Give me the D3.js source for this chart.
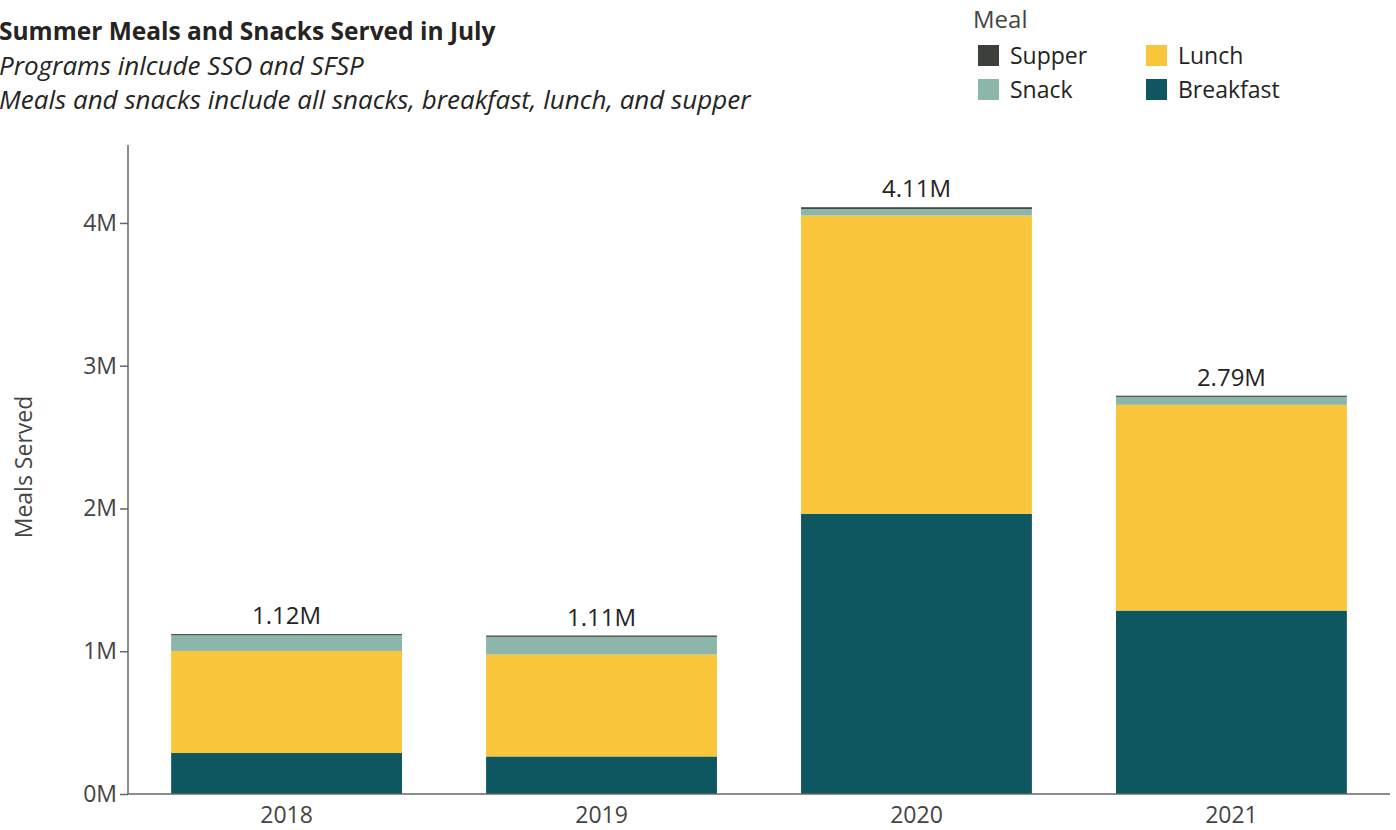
<!DOCTYPE html>
<html>
<head>
<meta charset="utf-8">
<script src="https://cdn.jsdelivr.net/npm/d3@7"></script>
<style>
  html, body { margin: 0; padding: 0; background: #fff; }
  svg { display: block; font-family: "Open Sans", "Noto Sans", sans-serif; }
</style>
</head>
<body>
<svg id="chart" width="1396" height="830"></svg>
<script>
// Meals served in July, by year and meal type (millions)
const years = ["2018", "2019", "2020", "2021"];
const breakfast = [0.287, 0.263, 1.963, 1.285];
const lunch     = [0.715, 0.714, 2.089, 1.441];
const snack     = [0.110, 0.124, 0.046, 0.056];
const supper    = [0.008, 0.009, 0.012, 0.008];
const meals = ["Breakfast", "Lunch", "Snack", "Supper"];
const mealColors = ["#0f5760", "#f8c53b", "#8bb6a9", "#3d3f3b"];
const yTicks = [0, 1, 2, 3, 4];

const rows = years.map((y, i) => ({
  year: y,
  Breakfast: breakfast[i] * 1e6,
  Lunch: lunch[i] * 1e6,
  Snack: snack[i] * 1e6,
  Supper: supper[i] * 1e6
}));

const svg = d3.select("#chart");

const x = d3.scaleBand()
  .domain(years)
  .range([128, 1390])
  .paddingInner(0.267)
  .paddingOuter(0.137);

const y = d3.scaleLinear()
  .domain([0, 4.546e6])
  .range([794, 145]);

const color = d3.scaleOrdinal().domain(meals).range(mealColors);

const stacked = d3.stack().keys(meals)(rows);

// stacked bars
svg.append("g")
  .selectAll("g")
  .data(stacked)
  .join("g")
  .attr("fill", d => color(d.key))
  .selectAll("rect")
  .data(d => d)
  .join("rect")
  .attr("x", d => x(d.data.year))
  .attr("width", x.bandwidth())
  .attr("y", d => y(d[1]))
  .attr("height", d => y(d[0]) - y(d[1]));

// totals above each bar
const totals = rows.map(r => ({ year: r.year, total: d3.sum(meals, k => r[k]) }));
svg.append("g")
  .selectAll("text")
  .data(totals)
  .join("text")
  .attr("x", d => x(d.year) + x.bandwidth() / 2)
  .attr("y", d => y(d.total) - 10)
  .attr("text-anchor", "middle")
  .attr("font-size", 24)
  .attr("fill", "#252423")
  .text(d => (d.total / 1e6).toFixed(2) + "M");

// y axis
const yAxis = svg.append("g")
  .attr("transform", "translate(128,0)")
  .call(d3.axisLeft(y)
    .tickValues(yTicks.map(v => v * 1e6))
    .tickFormat(v => (v / 1e6) + "M")
    .tickSize(8)
    .tickPadding(3));
yAxis.select(".domain").attr("stroke", "#666").attr("stroke-width", 1.5)
  .attr("d", "M0," + y.range()[0] + "V" + y.range()[1]);
yAxis.selectAll(".tick line").attr("stroke", "#666").attr("stroke-width", 1.5);
yAxis.selectAll(".tick text").attr("font-size", 23).attr("fill", "#444")
  .attr("font-family", "\"Open Sans\", sans-serif");

// x axis
const xAxis = svg.append("g")
  .attr("transform", "translate(0,794)")
  .call(d3.axisBottom(x).tickSize(0).tickPadding(13));
xAxis.select(".domain").attr("stroke", "#666").attr("stroke-width", 1.5)
  .attr("d", "M" + x.range()[0] + ",0H" + x.range()[1]);
xAxis.selectAll(".tick text").attr("font-size", 23).attr("fill", "#444")
  .attr("font-family", "\"Open Sans\", sans-serif");

// y axis title
svg.append("text")
  .attr("transform", "translate(32,467) rotate(-90)")
  .attr("text-anchor", "middle")
  .attr("font-size", 23)
  .attr("fill", "#444")
  .text("Meals Served");

// titles
svg.append("text")
  .attr("x", -1).attr("y", 40)
  .attr("font-size", 24.5).attr("font-weight", "bold").attr("fill", "#252423")
  .text("Summer Meals and Snacks Served in July");
svg.append("text")
  .attr("x", -1).attr("y", 75)
  .attr("font-size", 26).attr("font-style", "italic").attr("fill", "#252423")
  .text("Programs inlcude SSO and SFSP");
svg.append("text")
  .attr("x", -1).attr("y", 109)
  .attr("font-size", 26).attr("font-style", "italic").attr("fill", "#252423")
  .text("Meals and snacks include all snacks, breakfast, lunch, and supper");

// legend
const legend = svg.append("g");
legend.append("text")
  .attr("x", 973).attr("y", 28)
  .attr("font-size", 24).attr("fill", "#444")
  .text("Meal");
const legendItems = [
  { key: "Supper", col: 0, row: 0 },
  { key: "Lunch", col: 1, row: 0 },
  { key: "Snack", col: 0, row: 1 },
  { key: "Breakfast", col: 1, row: 1 }
];
const li = legend.selectAll("g.item")
  .data(legendItems)
  .join("g")
  .attr("class", "item")
  .attr("transform", d => `translate(${978 + d.col * 168},${45 + d.row * 34})`);
li.append("rect")
  .attr("width", 21).attr("height", 21)
  .attr("fill", d => color(d.key));
li.append("text")
  .attr("x", 32).attr("y", 19)
  .attr("font-size", 23).attr("fill", "#252423")
  .text(d => d.key);
</script>
</body>
</html>
